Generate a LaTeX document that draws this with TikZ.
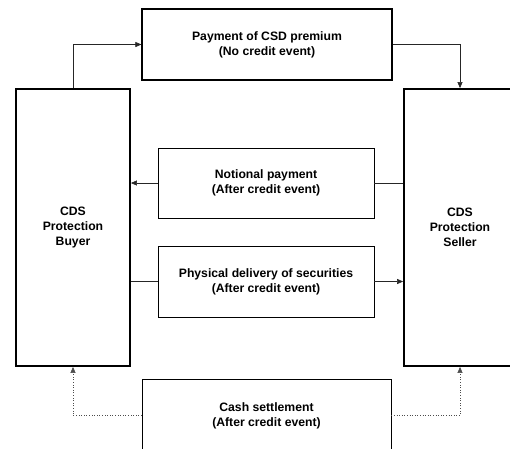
\documentclass[tikz,border=0pt]{standalone}
\usepackage{fontspec}
\setmainfont{Liberation Sans}
\usetikzlibrary{arrows.meta}
\tikzset{
  party/.style={draw, line width=1.8pt, align=center, font=\fontsize{12.2}{15}\selectfont\bfseries, inner sep=0pt},
  flowbox/.style={draw, line width=0.9pt, align=center, font=\fontsize{12.2}{15}\selectfont\bfseries, inner sep=0pt},
  conn/.style={line width=0.6pt, draw=black!85},
  arr/.style={conn, -{Triangle[length=6pt,width=5pt]}},
  dotconn/.style={line width=0.6pt, draw=black!70, dotted, -{Triangle[length=6pt,width=5pt]}}
}
\begin{document}
\begin{tikzpicture}[x=1pt,y=-1pt]
\useasboundingbox (0,0) rectangle (510,448);
\clip (0,0) rectangle (510,448);
\node[party, minimum width=114pt, minimum height=277pt] (buyer) at (73,227.5) {CDS\\Protection\\Buyer};
\node[party, minimum width=112pt, minimum height=277pt] (seller) at (460,227.5) {CDS\\Protection\\Seller};
\node[flowbox, line width=1.2pt, minimum width=250pt, minimum height=71pt] (prem) at (267,44.5) {Payment of CSD premium\\(No credit event)};
\node[flowbox, minimum width=216pt, minimum height=70pt] (notional) at (266,183) {Notional payment\\(After credit event)};
\node[flowbox, minimum width=216pt, minimum height=71pt] (phys) at (266,281.5) {Physical delivery of securities\\(After credit event)};
\node[flowbox, minimum width=249pt, minimum height=73pt] (cash) at (266.5,415.5) {Cash settlement\\(After credit event)};
\draw[arr] (buyer.north) |- (prem.west);
\draw[arr] (prem.east) -| (seller.north);
\draw[arr] (notional.west) -- (notional.west -| buyer.east);
\draw[conn] (notional.east) -- (notional.east -| seller.west);
\draw[conn] (phys.west -| buyer.east) -- (phys.west);
\draw[arr] (phys.east) -- (phys.east -| seller.west);
\draw[dotconn] (cash.west) -| (buyer.south);
\draw[dotconn] (cash.east) -| (seller.south);
\end{tikzpicture}
\end{document}
